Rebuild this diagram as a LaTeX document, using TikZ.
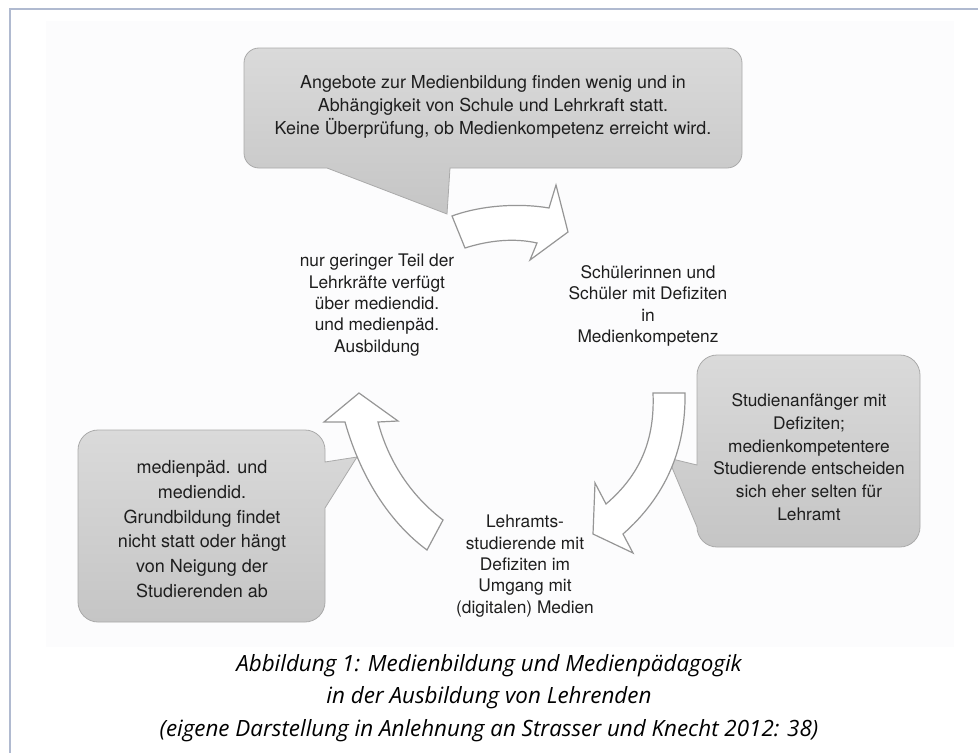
\documentclass[tikz,border=0pt]{standalone}
\usepackage{fontspec}
\newfontfamily\diagfont{TeX Gyre Heros}
\newfontfamily\capfont{Open Sans}

\begin{document}
\begin{tikzpicture}[x=0.75pt, y=-0.75pt]
  % whole page in pixel units, y pointing down
  \useasboundingbox (0,0) rectangle (978,753);

  % ==========================================
  % 1. COLOURS & STYLES
  % ==========================================
  \definecolor{frameBlue}{RGB}{176, 186, 208} % page frame
  \definecolor{paperFaint}{RGB}{252, 252, 253} % faint figure area
  \definecolor{calloutTop}{RGB}{218, 218, 218}
  \definecolor{calloutBot}{RGB}{197, 197, 197}
  \definecolor{calloutLine}{RGB}{170, 170, 170}
  \definecolor{arrowLine}{RGB}{150, 150, 150}
  \definecolor{inkDark}{RGB}{30, 30, 30}

  \tikzset{
    callout/.style={top color=calloutTop, bottom color=calloutBot,
      draw=calloutLine, line width=0.6pt},
    blockarrow/.style={fill=white, draw=arrowLine, line width=0.9pt,
      line join=miter},
    cycletext/.style={inner sep=0pt, align=center, text=inkDark,
      font=\diagfont\fontsize{13}{16}\selectfont},
    caption/.style={inner sep=0pt, align=center, text=black,
      font=\capfont\itshape\fontsize{16.8}{24.4}\selectfont}
  }

  % ==========================================
  % 2. FRAME
  % ==========================================
  \fill[paperFaint] (46,21) rectangle (954,647);
  \draw[frameBlue, line width=1.5pt] (9.5,753) -- (9.5,8.5) -- (978,8.5);

  % ==========================================
  % 3. CALLOUTS (rounded boxes with a tail)
  % ==========================================
  % --- top ---
  \shade[callout] (450,168) -- (727,168)
    .. controls (735.3,168) and (742,161.3) .. (742,153) -- (742,63)
    .. controls (742,54.7) and (735.3,48) .. (727,48) -- (259,48)
    .. controls (250.7,48) and (244,54.7) .. (244,63) -- (244,153)
    .. controls (244,161.3) and (250.7,168) .. (259,168)
    -- (327,168) -- (447,214) -- cycle;

  % --- right ---
  \shade[callout] (697,465) -- (668,458) -- (697,527)
    .. controls (697,538) and (706,547) .. (717,547) -- (900,547)
    .. controls (911,547) and (920,538) .. (920,527) -- (920,375)
    .. controls (920,364) and (911,355) .. (900,355) -- (717,355)
    .. controls (706,355) and (697,364) .. (697,375) -- cycle;

  % --- left ---
  \shade[callout] (325,508) -- (357,457) -- (325,462) -- (325,450)
    .. controls (325,439) and (316,430) .. (305,430) -- (98,430)
    .. controls (87,430) and (78,439) .. (78,450) -- (78,602)
    .. controls (78,613) and (87,622) .. (98,622) -- (305,622)
    .. controls (316,622) and (325,613) .. (325,602) -- cycle;

  % ==========================================
  % 4. CURVED BLOCK ARROWS
  % ==========================================
  % upper arrow, pointing right
  \draw[blockarrow] (452,216) .. controls (482,205) and (520,203) .. (549,208)
    -- (556,185) -- (568,232) -- (530,260) -- (537,243)
    .. controls (515,238) and (490,240) .. (465,248) -- cycle;

  % right arrow, pointing down-left
  \draw[blockarrow] (685,393) -- (653,393)
    .. controls (655,440) and (640,475) .. (606,504)
    -- (595,483) -- (593,534) -- (633,553) -- (623,534)
    .. controls (665,497) and (686,450) .. cycle;

  % left arrow, pointing up
  \draw[blockarrow] (359,393) -- (398,421) -- (378,422)
    .. controls (388,460) and (410,495) .. (443,520)
    -- (427,550) .. controls (393,525) and (362,482) .. (345,422)
    -- (324,422) -- cycle;

  % ==========================================
  % 5. TEXTS
  % ==========================================
  \node[cycletext, font=\diagfont\fontsize{13.4}{17.3}\selectfont] (offerBox) at (493,107)
    {Angebote zur Medienbildung finden wenig und in\\
     Abhängigkeit von Schule und Lehrkraft statt.\\
     Keine Überprüfung, ob Medienkompetenz erreicht wird.};

  \node[cycletext] (teachers) at (377,305)
    {nur geringer Teil der\\Lehrkräfte verfügt\\über mediendid.\\
     und medienpäd.\\Ausbildung};

  \node[cycletext] (pupils) at (648,306)
    {Schülerinnen und\\Schüler mit Defiziten\\in\\Medienkompetenz};

  \node[cycletext, font=\diagfont\fontsize{13}{17}\selectfont] (freshmenBox) at (809,457)
    {Studienanfänger mit\\Defiziten;\\medienkompetentere\\
     Studierende entscheiden\\sich eher selten für\\Lehramt};

  \node[cycletext] (students) at (525,566)
    {Lehramts-\\studierende mit\\Defiziten im\\Umgang mit\\(digitalen) Medien};

  \node[cycletext, font=\diagfont\fontsize{13.5}{18.5}\selectfont] (basicsBox) at (202,529)
    {medienpäd. und\\mediendid.\\Grundbildung findet\\
     nicht statt oder hängt\\von Neigung der\\Studierenden ab};

  % caption
  \node[caption] (figCaption) at (489,698)
    {Abbildung 1: Medienbildung und Medienpädagogik\\
     in der Ausbildung von Lehrenden\\
     (eigene Darstellung in Anlehnung an Strasser und Knecht 2012: 38)};

\end{tikzpicture}
\end{document}
